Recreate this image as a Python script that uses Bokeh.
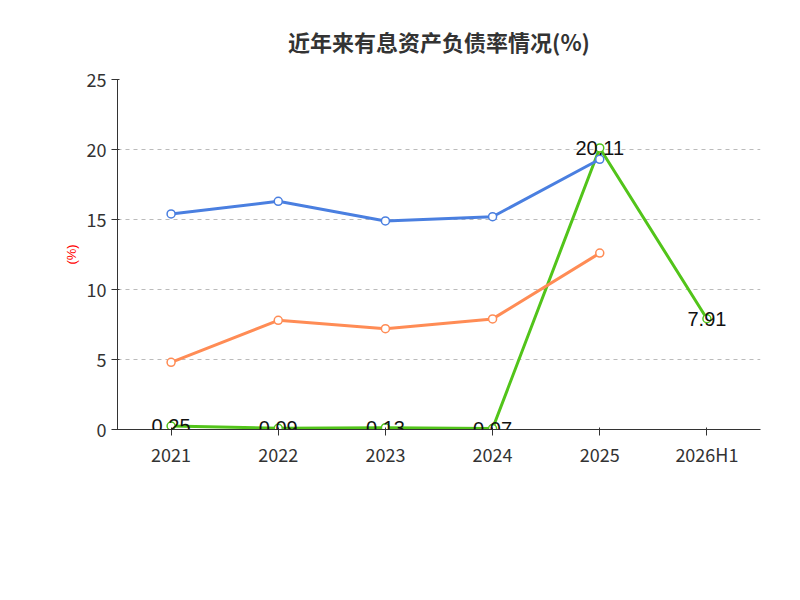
from bokeh.plotting import figure
from bokeh.models import Legend, LegendItem, Title, FixedTicker, ColumnDataSource, LabelSet
from bokeh.embed import file_html
from bokeh.resources import INLINE

cats = ["2021", "2022", "2023", "2024", "2025", "2026H1"]
debt = [0.25, 0.09, 0.13, 0.07, 20.11, 7.91]
avg = [15.4, 16.3, 14.9, 15.2, 19.3]
med = [4.8, 7.8, 7.2, 7.9, 12.6]

xs = [i + 0.5 for i in range(len(cats))]
F = "Noto Sans CJK SC"
p = figure(frame_width=643, frame_height=350, output_backend="svg", toolbar_location=None,
           x_range=(0, 6), y_range=(0, 25), min_border_left=117, min_border_right=16,
           min_border_top=10)
p.title.text = "近年来有息资产负债率情况(%)"
p.title.align = "center"
p.title.text_font = F
p.title.text_font_size = "22px"
p.title.text_color = "#333333"
p.title.standoff = 45
p.outline_line_color = None
p.xgrid.visible = False
p.ygrid.grid_line_dash = "4 4"
p.ygrid.grid_line_color = "#bbbbbb"
p.xaxis.ticker = FixedTicker(ticks=xs)
p.xaxis.major_label_overrides = {x: c for x, c in zip(xs, cats)}
p.yaxis.ticker = FixedTicker(ticks=[0, 5, 10, 15, 20, 25])
for ax in (p.xaxis, p.yaxis):
    ax.major_label_text_font_size = "18px"
    ax.major_label_text_font = F
    ax.major_label_text_color = "#333333"
    ax.minor_tick_line_color = None
    ax.axis_line_color = "#333333"
    ax.major_tick_line_color = "#333333"
p.yaxis.axis_label = "(%)"
p.yaxis.axis_label_text_color = "red"
p.yaxis.axis_label_text_font_size = "13px"
p.yaxis.axis_label_text_font_style = "normal"

series = [(debt, "#52c41a", "有息资产负债率"), (avg, "#4a7fe0", "行业均值"), (med, "#ff8c55", "行业中位数")]
items = []
for vals, col, name in series:
    x = xs[:len(vals)]
    l = p.line(x, vals, line_color=col, line_width=3)
    c = p.scatter(x, vals, size=8, fill_color="white", line_color=col, line_width=1.5)
    items.append(LegendItem(label=name, renderers=[l, c]))

src = ColumnDataSource(dict(x=xs, y=debt, t=[f"{v:.2f}" for v in debt]))
p.add_layout(LabelSet(x="x", y="y", text="t", source=src, text_align="center",
                      text_baseline="middle", text_font_size="20px", text_color="#111111"))

leg = Legend(items=items, orientation="horizontal", label_text_font=F,
             label_text_font_size="20px", label_text_color="#333333",
             border_line_color=None, glyph_width=50, spacing=25, location="center",
             margin=0, padding=20)
p.add_layout(leg, "below")
src_t = Title(text="制图数据来自恒生聚源数据库", align="center", text_font=F,
              text_font_size="14px", text_color="#c89a2a", text_font_style="normal",
              standoff=10)
p.add_layout(src_t, "below")

open("out.html", "w").write(file_html(p, INLINE))
